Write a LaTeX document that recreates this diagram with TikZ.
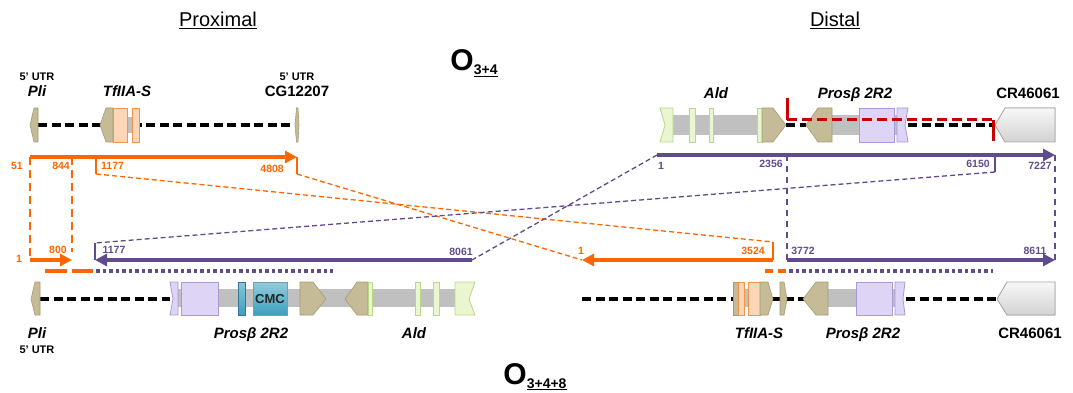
\documentclass[tikz,border=0pt]{standalone}
\usepackage{fontspec}
\setmainfont{Liberation Sans}
\usetikzlibrary{arrows.meta}
\definecolor{org}{RGB}{255,102,0}
\definecolor{pur}{RGB}{96,76,140}
\definecolor{tanf}{RGB}{197,187,150}
\definecolor{tand}{RGB}{165,155,115}
\definecolor{lpur}{RGB}{222,212,245}
\definecolor{dpur}{RGB}{170,152,215}
\definecolor{lorg}{RGB}{252,214,182}
\definecolor{dorg}{RGB}{238,150,80}
\definecolor{lgrn}{RGB}{234,246,208}
\definecolor{dgrn}{RGB}{185,215,135}
\definecolor{grbar}{RGB}{192,192,192}
\definecolor{redl}{RGB}{200,0,0}
\definecolor{cmcc}{RGB}{60,160,190}
\definecolor{cmcd}{RGB}{50,120,150}
\tikzset{
 num/.style={font=\fontsize{10.5}{12}\selectfont\bfseries, inner sep=0pt, anchor=base},
 gname/.style={font=\fontsize{15}{17}\selectfont\bfseries\itshape, inner sep=0pt, anchor=base},
 gnameup/.style={font=\fontsize{15}{17}\selectfont\bfseries, inner sep=0pt, anchor=base},
 utr/.style={font=\fontsize{11}{13}\selectfont\bfseries, inner sep=0pt, anchor=base},
 backbone/.style={line width=3.6pt, dash pattern=on 9pt off 4.5pt},
 tanshape/.style={fill=tanf, draw=tand, line width=0.6pt},
 purbox/.style={fill=lpur, draw=dpur, line width=0.8pt},
 orbox/.style={fill=lorg, draw=dorg, line width=0.8pt},
 grnbox/.style={fill=lgrn, draw=dgrn, line width=0.8pt},
 bluebox/.style={top color=cmcc!60, bottom color=cmcc, draw=cmcd, line width=0.6pt},
 cmcbox/.style={top color=cmcc!55, bottom color=cmcc, draw=cmcd!70, line width=0.6pt},
 intron/.style={fill=grbar},
 oarrow/.style={draw=org, line width=4pt, -{Triangle[length=12pt,width=12pt]}},
 parrow/.style={draw=pur, line width=4pt, -{Triangle[length=12pt,width=12pt]}},
 othin/.style={draw=org, line width=1.3pt},
 odash/.style={othin, dash pattern=on 5pt off 3pt},
 othick/.style={draw=org, line width=2.2pt, dash pattern=on 8pt off 5pt},
 pthin/.style={draw=pur, line width=1.3pt},
 pdash/.style={pthin, dash pattern=on 5pt off 3pt},
 pthick/.style={draw=pur, line width=1.8pt, dash pattern=on 6pt off 5pt},
 pdots/.style={draw=pur, line width=3.5pt, dash pattern=on 3.5pt off 3pt},
 odots/.style={draw=org, line width=3.5pt},
 crgene/.style={top color=gray!6, bottom color=gray!35, draw=gray!70, line width=0.8pt},
 redline/.style={draw=redl, line width=3pt},
}
\begin{document}
\begin{tikzpicture}[x=1pt,y=-1pt]
\useasboundingbox (0,0) rectangle (1073,393);

% titles
\node[font=\fontsize{20}{22}\selectfont, inner sep=0pt, anchor=base] (prox) at (218,27) {\underline{Proximal}};
\node[font=\fontsize{20}{22}\selectfont, inner sep=0pt, anchor=base] (dist) at (835,27) {\underline{Distal}};
\node[inner sep=0pt, anchor=base] (o34) at (474,71) {\fontsize{30}{32}\selectfont\bfseries O\raisebox{-4pt}{\fontsize{14}{16}\selectfont\underline{3+4}}};
\node[inner sep=0pt, anchor=base] (o348) at (535,384) {\fontsize{30}{32}\selectfont\bfseries O\raisebox{-4pt}{\fontsize{14}{16}\selectfont\underline{3+4+8}}};

% ---------- top-left gene row ----------
\draw[backbone] (38,125) -- (295,125);
\filldraw[tanshape] (30,125) -- (34,108) -- (38,108) -- (38,142) -- (34,142) -- cycle;
\fill[intron] (113,117) rectangle (139,133);
\filldraw[tanshape] (100,125) -- (106,108) -- (113,108) -- (113,142) -- (106,142) -- cycle;
\filldraw[orbox] (113,108) rectangle (127,142);
\filldraw[orbox] (132,108) rectangle (139,142);
\filldraw[tanshape] (295,125) -- (296.5,108) -- (298,108) -- (299,125) -- (298,142) -- (296.5,142) -- cycle;
\node[utr] (utr1) at (37,81) {5’ UTR};
\node[gname] (pli1) at (37,97) {Pli};
\node[gname] (tf1) at (127,97) {TfIIA-S};
\node[utr] (utr2) at (297,81) {5’ UTR};
\node[gnameup] (cg) at (297,97) {CG12207};

% ---------- top-right gene row ----------
\fill[intron] (668,115) rectangle (760,135);
\fill[intron] (832,115) rectangle (897,135);
\draw[backbone] (786,125) -- (806,125);
\draw[backbone] (908,125) -- (995,125);
\filldraw[grnbox] (660,108) -- (673,108) -- (673,142) -- (660,142) -- (665,125) -- cycle;
\filldraw[grnbox] (689,108) rectangle (695,142);
\filldraw[grnbox] (709,108) rectangle (713,142);
\filldraw[grnbox] (757,108) rectangle (762,142);
\filldraw[tanshape] (762,108) -- (773,108) -- (786,125) -- (773,142) -- (762,142) -- cycle;
\filldraw[tanshape] (806,125) -- (818,108) -- (832,108) -- (832,142) -- (818,142) -- cycle;
\filldraw[purbox] (859,108) rectangle (894,142);
\filldraw[purbox] (897,108) -- (908,108) -- (905,125) -- (908,142) -- (897,142) -- cycle;
\filldraw[crgene] (995,125) -- (1005,108) -- (1055,108) -- (1055,142) -- (1005,142) -- cycle;
\coordinate (r1) at (787,98);
\coordinate (r2) at (787,120);
\coordinate (r3) at (993,120);
\coordinate (r4) at (993,141);
\draw[redline] (r1) -- (r2);
\draw[redline, dash pattern=on 10pt off 5pt] (r2) -- (r3);
\draw[redline] (r3) -- (r4);
\node[gname] (ald1) at (716,99) {Ald};
\node[gname] (pros1) at (855,99) {Prosβ 2R2};
\node[gnameup] (cr1) at (1028,99) {CR46061};

% ---------- bottom-left gene row ----------
\draw[backbone] (40,299) -- (170,299);
\draw[backbone] (326,299) -- (345,299);
\fill[intron] (178,289) rectangle (455,307);
\filldraw[tanshape] (31,299) -- (35,282) -- (40,282) -- (40,315) -- (35,315) -- cycle;
\filldraw[purbox] (170,282) -- (178,282) -- (178,315) -- (170,315) -- (173,299) -- cycle;
\filldraw[purbox] (181,282) rectangle (218,315);
\filldraw[bluebox] (238,282) rectangle (245,315);
\filldraw[cmcbox] (253,282) rectangle (287,315);
\node[font=\fontsize{13}{15}\selectfont\bfseries, text=black!85, inner sep=0pt] (cmc) at (270,299) {CMC};
\filldraw[tanshape] (300,282) -- (313,282) -- (326,299) -- (313,315) -- (300,315) -- cycle;
\filldraw[tanshape] (345,299) -- (357,282) -- (368,282) -- (368,315) -- (357,315) -- cycle;
\filldraw[grnbox] (368,282) rectangle (372,315);
\filldraw[grnbox] (415,282) rectangle (420,315);
\filldraw[grnbox] (433,282) rectangle (439,315);
\filldraw[grnbox] (455,282) -- (475,282) -- (469,299) -- (475,315) -- (455,315) -- cycle;
\node[gname] (pli2) at (37,338) {Pli};
\node[utr] (utr3) at (37,353) {5’ UTR};
\node[gname] (pros2) at (251,338) {Prosβ 2R2};
\node[gname] (ald2) at (414,338) {Ald};

% ---------- bottom-right gene row ----------
\draw[backbone] (582,299) -- (997,299);
\fill[intron] (738,289) rectangle (760,307);
\fill[intron] (828,289) rectangle (895,307);
\filldraw[tanshape] (733,282) rectangle (738,315);
\filldraw[orbox] (738,282) rectangle (744,315);
\filldraw[orbox] (748,282) rectangle (760,315);
\filldraw[tanshape] (760,282) -- (768,282) -- (773,299) -- (768,315) -- (760,315) -- cycle;
\filldraw[tanshape] (780,282) -- (784,282) -- (787,299) -- (784,315) -- (780,315) -- cycle;
\filldraw[tanshape] (803,299) -- (816,282) -- (828,282) -- (828,315) -- (816,315) -- cycle;
\filldraw[purbox] (856,282) rectangle (892,315);
\filldraw[purbox] (895,282) -- (905,282) -- (903,299) -- (905,315) -- (895,315) -- cycle;
\filldraw[crgene] (997,299) -- (1007,282) -- (1055,282) -- (1055,315) -- (1007,315) -- cycle;
\node[gname] (tf2) at (759,338) {TfIIA-S};
\node[gname] (pros3) at (863,338) {Prosβ 2R2};
\node[gnameup] (cr2) at (1030,338) {CR46061};

% ---------- coordinates of map arrows ----------
\coordinate (oA) at (30,157);
\coordinate (oB) at (297,157);
\coordinate (o844) at (72,157);
\coordinate (o800) at (72,252);
\coordinate (o1177) at (96,157);
\coordinate (o1177b) at (96,174);
\coordinate (o4808b) at (297,174);
\coordinate (oC) at (30,260);
\coordinate (oD) at (72,260);
\coordinate (oE) at (773,260);
\coordinate (oF) at (582,260);
\coordinate (o3524b) at (773,242);

\coordinate (pA) at (657,155);
\coordinate (pB) at (1055,155);
\coordinate (p2356) at (787,155);
\coordinate (p6150) at (995,155);
\coordinate (p6150b) at (995,172);
\coordinate (pC) at (472,260);
\coordinate (pD) at (95,260);
\coordinate (p1177b) at (95,243);
\coordinate (pE) at (787,260);
\coordinate (pF) at (1055,260);

% connectors
\draw[othick] (oA) -- (oC);
\draw[othick] (o844) -- (o800);
\draw[othin] (o1177) -- (o1177b);
\draw[odash] (o1177b) -- (o3524b);
\draw[othin] (o3524b) -- (oE);
\draw[othin] (oB) -- (o4808b);
\draw[odash] (o4808b) -- (oF);

\draw[pdash] (pA) -- (pC);
\draw[pthin] (p6150) -- (p6150b);
\draw[pdash] (p6150b) -- (p1177b);
\draw[pthin] (p1177b) -- (pD);
\draw[pthick] (p2356) -- (pE);
\draw[pthick] (pB) -- (pF);

% arrows
\draw[oarrow] (oA) -- (oB);
\draw[oarrow] (oC) -- (oD);
\draw[oarrow] (oE) -- (oF);
\draw[parrow] (pA) -- (pB);
\draw[parrow] (pC) -- (pD);
\draw[parrow] (pE) -- (pF);

% dotted bars
\draw[odots] (45,271) -- (67,271);
\draw[odots] (72,271) -- (93,271);
\draw[pdots] (96,271) -- (333,271);
\draw[odots] (765,271) -- (773,271);
\draw[odots] (778,271) -- (786,271);
\draw[pdots] (789,271) -- (993,271);

% numbers
\node[num, text=org] (n51) at (17,169) {51};
\node[num, text=org, anchor=base east] (n844) at (70,169) {844};
\node[num, text=org, anchor=base west] (n1177a) at (101,169) {1177};
\node[num, text=org, anchor=base east] (n4808) at (284,172) {4808};
\node[num, text=org] (n1a) at (19,262) {1};
\node[num, text=org] (n800) at (58,253) {800};
\node[num, text=org] (n1b) at (581,254) {1};
\node[num, text=org] (n3524) at (753,254) {3524};
\node[num, text=pur] (n1c) at (661,169) {1};
\node[num, text=pur] (n2356) at (771,167) {2356};
\node[num, text=pur] (n6150) at (978,167) {6150};
\node[num, text=pur] (n7227) at (1040,169) {7227};
\node[num, text=pur] (n1177b) at (114,253) {1177};
\node[num, text=pur] (n8061) at (461,255) {8061};
\node[num, text=pur] (n3772) at (803,254) {3772};
\node[num, text=pur] (n8611) at (1035,254) {8611};
\end{tikzpicture}
\end{document}
